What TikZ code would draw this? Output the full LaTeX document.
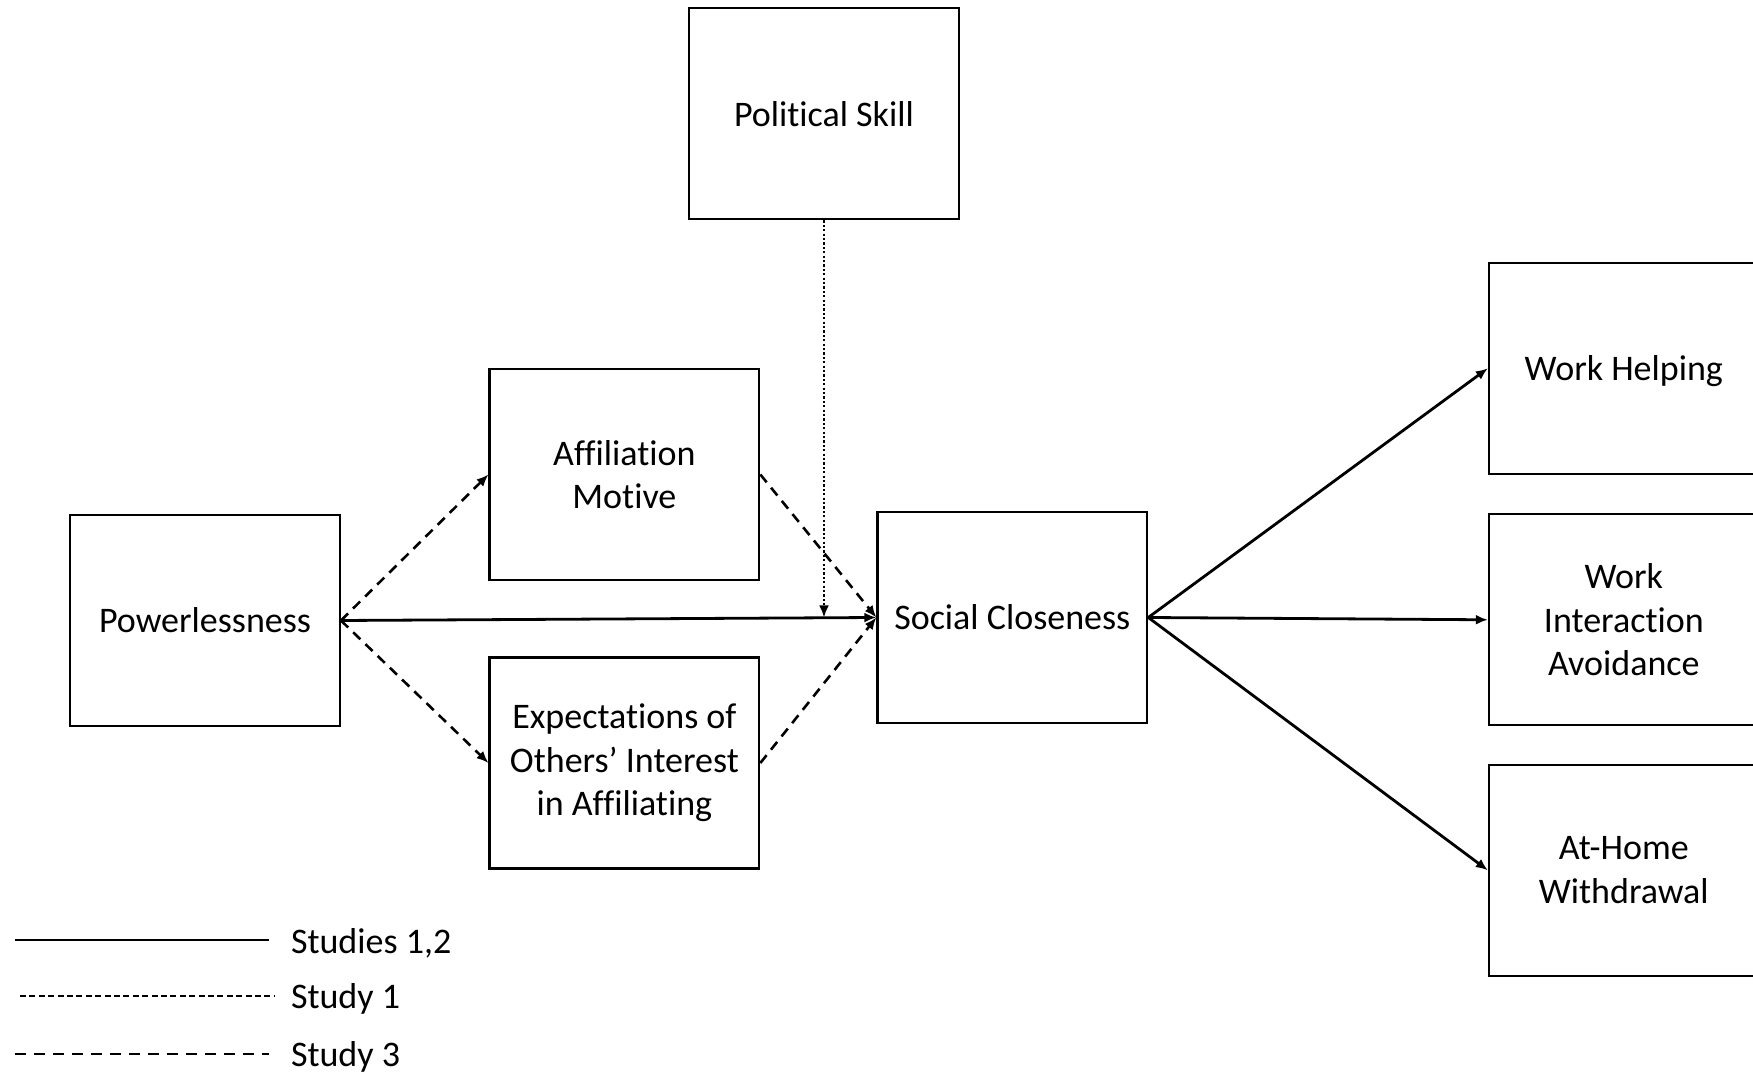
\documentclass[tikz,border=0pt]{standalone}
\usepackage{fontspec}
\setmainfont{Carlito}[Ligatures=NoCommon]
\usetikzlibrary{arrows.meta}
\begin{document}
\begin{tikzpicture}[x=0.5pt, y=-0.5pt, line width=1pt,
  box/.style={draw, line width=1.2pt, minimum width=134.75pt, minimum height=105.5pt,
    align=center, inner sep=2pt, font=\fontsize{18}{21.8}\selectfont},
  legtext/.style={anchor=west, inner sep=0pt, font=\fontsize{18}{21.8}\selectfont},
  path12/.style={line width=1.4pt, -{Latex[length=6pt,width=5pt]}},
  path3/.style={line width=1.3pt, dash pattern=on 5pt off 3.5pt, -{Latex[length=6pt,width=5pt]}},
  pathmod/.style={line width=1.4pt, dash pattern=on 1.1pt off 1.1pt, -{Latex[length=6pt,width=5pt]}}]
  \useasboundingbox (0,0) rectangle (1753,1074);
  % boxes
  \node[box] (pw)  at (205,620.5)    {Powerlessness};
  \node[box] (am)  at (624.4,474.5)  {Affiliation\\Motive};
  \node[box] (ex)  at (624.4,763)    {Expectations of\\Others' Interest\\in Affiliating};
  \node[box] (ps)  at (824,113.8)    {Political Skill};
  \node[box] (sc)  at (1012.3,617.5) {Social Closeness};
  \node[box, text depth=0pt] (wh)  at (1623.8,368.3) {Work Helping};
  \node[box] (wia) at (1623.8,619.8) {Work\\Interaction\\Avoidance};
  \node[box] (ahw) at (1623.8,870.3) {At-Home\\Withdrawal};
  % paths
  \draw[path3] (pw.east) -- (am.west);
  \draw[path3] (pw.east) -- (ex.west);
  \draw[path3] (am.east) -- (sc.west);
  \draw[path3] (ex.east) -- (sc.west);
  \draw[path12] (pw.east) -- (sc.west);
  \coordinate (mod) at (ps.south |- sc.west);
  \draw[pathmod] (ps.south) -- (mod);
  \draw[path12] (sc.east) -- (wh.west);
  \draw[path12] (sc.east) -- (wia.west);
  \draw[path12] (sc.east) -- (ahw.west);
  % legend
  \node[legtext] (l12) at (290,943)  {Studies 1,2};
  \node[legtext] (l1)  at (290,999)  {Study 1};
  \node[legtext] (l3)  at (290,1057) {Study 3};
  \coordinate (l12a) at (15,940);  \coordinate (l12b) at (269,940);
  \coordinate (l1a)  at (20,996);  \coordinate (l1b)  at (274,996);
  \coordinate (l3a)  at (15,1054); \coordinate (l3b)  at (269,1054);
  \draw[line width=1.4pt] (l12a) -- (l12b);
  \draw[line width=1.2pt, dash pattern=on 3pt off 1.7pt] (l1a) -- (l1b);
  \draw[line width=1.3pt, dash pattern=on 5.5pt off 4pt] (l3a) -- (l3b);
\end{tikzpicture}
\end{document}
